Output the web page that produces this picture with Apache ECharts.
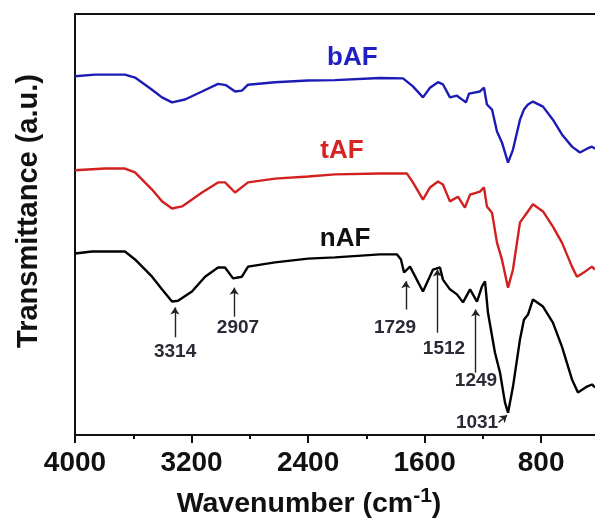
<!DOCTYPE html>
<html>
<head>
<meta charset="utf-8">
<script src="https://cdn.jsdelivr.net/npm/echarts@6.0.0/dist/echarts.min.js"></script>
<style>
	html, body { margin: 0; padding: 0; background: #fff; }
	#main { width: 595px; height: 523px; }
</style>
</head>
<body>
<div id="main"></div>
<script>
// bAF spectrum (wavenumber, transmittance a.u.)
var bafWave = [4000, 3863, 3657, 3588, 3471, 3403, 3334, 3245, 3128, 3018,
	2963, 2901, 2854, 2812, 2627, 2400, 2215, 1906, 1748, 1680,
	1611, 1563, 1508, 1474, 1426, 1378, 1316, 1295, 1220, 1192,
	1172, 1137, 1103, 1069, 1027, 993, 945, 918, 890, 856,
	787, 719, 657, 588, 533, 485, 451, 430];
var bafT = [85.2, 85.6, 85.6, 84.9, 82.0, 80.2, 79.0, 79.7, 81.6, 83.4,
	83.1, 81.6, 81.8, 83.2, 83.8, 84.2, 84.3, 84.8, 84.7, 82.8,
	80.2, 82.5, 83.8, 83.3, 80.2, 80.6, 79.0, 81.1, 81.6, 82.5,
	78.5, 77.3, 72.1, 69.5, 64.7, 67.8, 74.9, 77.3, 78.5, 79.2,
	78.0, 74.9, 71.4, 68.5, 67.1, 68.0, 68.5, 68.0];

// tAF spectrum
var tafWave = [4000, 3794, 3657, 3588, 3471, 3403, 3334, 3265, 3128, 3018,
	2970, 2901, 2812, 2627, 2400, 2215, 1906, 1721, 1680, 1611,
	1563, 1508, 1474, 1426, 1371, 1323, 1288, 1220, 1192, 1172,
	1137, 1103, 1069, 1027, 993, 945, 897, 856, 787, 719,
	657, 588, 554, 499, 451, 430];
var tafT = [62.9, 63.3, 63.3, 62.4, 58.3, 55.5, 53.8, 54.3, 57.6, 60.0,
	60.0, 57.6, 60.0, 60.9, 61.4, 61.9, 62.1, 62.1, 60.0, 55.9,
	58.8, 60.2, 59.5, 55.5, 56.6, 54.0, 57.1, 57.8, 58.8, 54.3,
	52.8, 45.7, 41.7, 35.0, 39.3, 50.5, 52.8, 54.8, 53.1, 49.5,
	45.7, 40.0, 37.6, 38.8, 40.0, 39.3];

// nAF spectrum
var nafWave = [4000, 3883, 3657, 3588, 3471, 3403, 3334, 3293, 3197, 3107,
	3018, 2970, 2915, 2854, 2812, 2627, 2400, 2215, 1906, 1789,
	1762, 1741, 1700, 1611, 1542, 1494, 1474, 1426, 1378, 1336,
	1288, 1240, 1206, 1185, 1165, 1117, 1082, 1048, 1027, 993,
	945, 918, 890, 856, 787, 719, 657, 588, 547, 485,
	451, 430];
var nafT = [43.1, 43.6, 43.6, 41.7, 37.6, 34.6, 31.7, 31.9, 34.1, 37.6,
	39.8, 39.8, 37.2, 37.6, 40.0, 41.0, 41.9, 42.2, 42.9, 42.9,
	41.7, 38.6, 40.0, 34.1, 39.3, 39.8, 36.9, 34.6, 33.4, 31.5,
	34.6, 31.7, 35.3, 36.5, 29.1, 19.6, 14.8, 7.7, 5.3, 11.5,
	22.7, 27.4, 28.6, 32.2, 30.5, 26.7, 21.0, 13.2, 10.1, 11.5,
	12.0, 11.3];

// x axis ticks
var majorTicks = [4000, 3200, 2400, 1600, 800];
var minorTicks = [3600, 2800, 2000, 1200];

// series names written next to each curve
var seriesNames = ['bAF', 'tAF', 'nAF'];
var seriesColors = ['#1c1cb4', '#d22020', '#000000'];
var nameColors = ['#1f1fc4', '#d42424', '#111111'];
var nameWave = [2096, 2167, 2146];
var nameT = [89.6, 67.5, 46.5];

// peak arrows on nAF
var peakWave = [3314, 2907, 1729, 1512, 1249];
var arrowTop = [30.3, 35.0, 36.5, 39.3, 29.8];
var arrowBottom = [23.2, 28.1, 29.8, 24.3, 14.8];

// peak labels
var peakLabels = ['3314', '2907', '1729', '1512', '1249', '1031'];
var labelWave = [3313, 2881, 1803, 1467, 1247, 1240];
var labelT = [19.8, 25.5, 25.5, 20.5, 12.9, 3.0];

var FONT = 'Liberation Sans';

function pairs(xs, ys) {
	var out = [];
	for (var i = 0; i < xs.length; i++) out.push([xs[i], ys[i]]);
	return out;
}

var myChart = echarts.init(document.getElementById('main'), null, { renderer: 'canvas' });

// arrows pointing up to the peaks
var arrowData = [];
for (var i = 0; i < peakWave.length; i++) {
	arrowData.push([{ coord: [peakWave[i], arrowBottom[i]] }, { coord: [peakWave[i], arrowTop[i]] }]);
}
// small arrow from the 1031 label to the band minimum
arrowData.push([{ coord: [1092, 3.0] }, { coord: [1034, 4.7] }]);

var nameData = [];
for (var i = 0; i < seriesNames.length; i++) {
	nameData.push({
		value: [nameWave[i], nameT[i]],
		label: { formatter: seriesNames[i], color: nameColors[i] }
	});
}

var peakData = [];
for (var i = 0; i < peakLabels.length; i++) {
	peakData.push({ value: [labelWave[i], labelT[i]], label: { formatter: peakLabels[i] } });
}

function spectrum(name, xs, ys, color) {
	return {
		name: name,
		type: 'line',
		data: pairs(xs, ys),
		showSymbol: false,
		symbol: 'none',
		lineStyle: { color: color, width: 2.4 },
		itemStyle: { color: color },
		silent: true
	};
}

var nafSeries = spectrum('nAF', nafWave, nafT, '#000');
nafSeries.markLine = {
	silent: true,
	symbol: ['none', 'arrow'],
	symbolSize: 7,
	label: { show: false },
	lineStyle: { color: '#222', width: 1.4, type: 'solid', opacity: 1 },
	data: arrowData
};

option = {
	animation: false,
	backgroundColor: '#fff',
	grid: {
		left: 75,
		right: 0,
		top: 14,
		bottom: 88,
		outerBoundsMode: 'none',
		containLabel: false
	},
	xAxis: [
		{
			type: 'value',
			inverse: true,
			min: 430,
			max: 4000,
			position: 'bottom',
			name: '{a|Wavenumber (cm}{sup|-1}{a|)}',
			nameLocation: 'middle',
			nameGap: 50.5,
			nameMoveOverlap: false,
			nameTextStyle: {
				padding: [0, 52, 0, 0],
				rich: {
					a: { fontFamily: FONT, fontSize: 28.5, fontWeight: 'bold', color: '#111', lineHeight: 38 },
					sup: { fontFamily: FONT, fontSize: 21, fontWeight: 'bold', color: '#111', lineHeight: 22, verticalAlign: 'top' }
				}
			},
			axisLine: { show: true, onZero: false, lineStyle: { color: '#111', width: 2 } },
			axisTick: { show: true, customValues: majorTicks, length: 8, lineStyle: { color: '#111', width: 2 } },
			axisLabel: {
				customValues: majorTicks,
				margin: 14,
				fontFamily: FONT,
				fontSize: 28,
				fontWeight: 'bold',
				color: '#111',
				formatter: function(v) { return String(v); }
			},
			splitLine: { show: false }
		},
		{
			// minor ticks
			type: 'value',
			inverse: true,
			min: 430,
			max: 4000,
			position: 'bottom',
			axisLine: { show: false },
			axisTick: { show: true, customValues: minorTicks, length: 4, lineStyle: { color: '#111', width: 2 } },
			axisLabel: { show: false },
			splitLine: { show: false }
		},
		{
			// top frame line
			type: 'value',
			inverse: true,
			min: 430,
			max: 4000,
			position: 'top',
			axisLine: { show: true, onZero: false, lineStyle: { color: '#111', width: 2 } },
			axisTick: { show: false },
			axisLabel: { show: false },
			splitLine: { show: false }
		}
	],
	yAxis: {
		type: 'value',
		min: 0,
		max: 100,
		name: 'Transmittance (a.u.)',
		nameLocation: 'middle',
		nameGap: 32,
		nameMoveOverlap: false,
		nameTextStyle: {
			fontFamily: FONT,
			fontSize: 29,
			fontWeight: 'bold',
			color: '#111',
			padding: [0, 0, 0, 27]
		},
		axisLine: { show: true, onZero: false, lineStyle: { color: '#111', width: 2 } },
		axisTick: { show: false },
		axisLabel: { show: false },
		splitLine: { show: false }
	},
	series: [
		spectrum('bAF', bafWave, bafT, seriesColors[0]),
		spectrum('tAF', tafWave, tafT, seriesColors[1]),
		nafSeries,
		{
			// curve names
			type: 'scatter',
			symbolSize: 0,
			silent: true,
			itemStyle: { opacity: 1 },
			data: nameData,
			label: {
				show: true,
				position: 'inside',
				fontFamily: FONT,
				fontSize: 26,
				fontWeight: 'bold'
			}
		},
		{
			// peak wavenumbers
			type: 'scatter',
			symbolSize: 0,
			silent: true,
			itemStyle: { opacity: 1 },
			data: peakData,
			label: {
				show: true,
				position: 'inside',
				fontFamily: FONT,
				fontSize: 19,
				fontWeight: 'bold',
				color: '#2a2a36'
			}
		}
	]
};

myChart.setOption(option);
</script>
</body>
</html>
